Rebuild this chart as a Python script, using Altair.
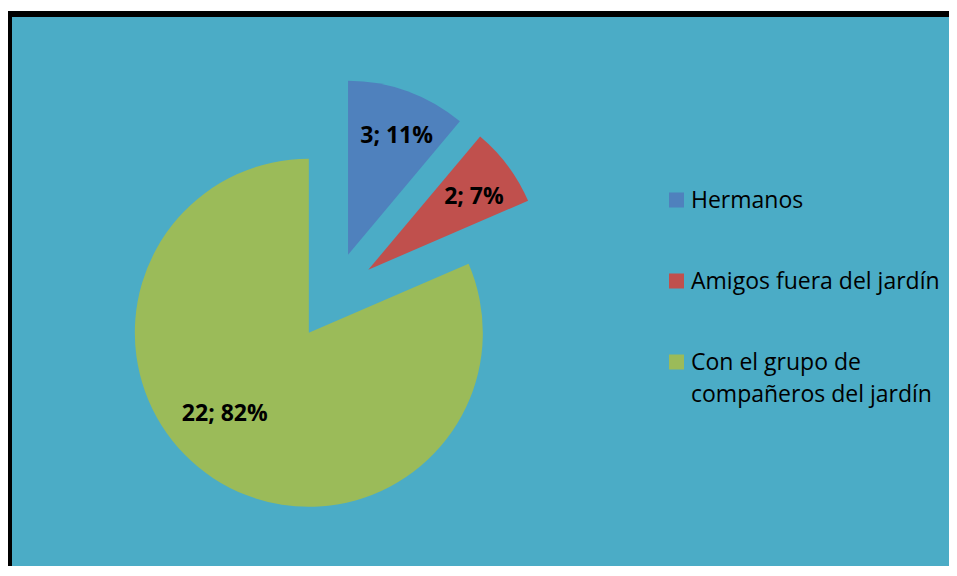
import altair as alt
import pandas as pd

# ---- data ----
categories = ["Hermanos", "Amigos fuera del jardín", "Con el grupo de compañeros del jardín"]
legend_text = ["Hermanos", "Amigos fuera del jardín", "Con el grupo de\ncompañeros del jardín"]
values = [3, 2, 22]
percents = [11, 7, 82]
colors = ["#4F81BD", "#C0504D", "#9BBB59"]

df = pd.DataFrame({"cat": categories, "value": values, "pct": percents,
                   "order": list(range(len(values))), "legtext": legend_text})

# ---- style ----
PAD_L, PAD_T = 1, 6
W, H = 941 - PAD_L, 558 - PAD_T
CX, CY = 324, 282      # pie centre (plot coords)
R = 174                # pie radius
EXPLODE = 44           # explosion distance
BG = "#4BACC6"

pie_base = (
    alt.Chart(df)
    .transform_joinaggregate(total="sum(value)")
    .transform_window(cum="sum(value)", sort=[alt.SortField("order")], frame=[None, 0])
    .transform_calculate(
        t0="2*PI*(datum.cum - datum.value)/datum.total",
        t1="2*PI*datum.cum/datum.total",
        mid="(datum.t0 + datum.t1)/2",
        big="datum.value*2 > datum.total",
        px=f"{CX} + {EXPLODE}*sin(datum.mid)",
        py=f"{CY} - {EXPLODE}*cos(datum.mid)",
        la="datum.mid + (datum.big ? 0.22 : 0.04)",
        lr="datum.big ? 117 : 128",
        lx="datum.px + datum.lr*sin(datum.la)",
        ly="datum.py - datum.lr*cos(datum.la)",
        lab="datum.value + '; ' + datum.pct + '%'",
    )
)

arcs = pie_base.mark_arc(radius=R).encode(
    theta=alt.Theta("t0:Q", scale=None, stack=False),
    theta2="t1:Q",
    x=alt.X("px:Q", scale=None, axis=None),
    y=alt.Y("py:Q", scale=None, axis=None),
    color=alt.Color("cat:N", scale=alt.Scale(domain=categories, range=colors), legend=None),
)

labels = pie_base.mark_text(
    font="Open Sans", fontSize=23, fontWeight="bold", color="black",
    align="center", baseline="middle",
).encode(
    x=alt.X("lx:Q", scale=None, axis=None),
    y=alt.Y("ly:Q", scale=None, axis=None),
    text="lab:N",
)

leg_y = alt.Y("cat:N", scale=alt.Scale(domain=categories, range=[186, 348], padding=0), axis=None)

leg_sq = alt.Chart(df).mark_square(size=225, opacity=1).encode(
    x=alt.value(667.5),
    y=leg_y,
    color=alt.Color("cat:N", scale=alt.Scale(domain=categories, range=colors), legend=None),
)

leg_txt = alt.Chart(df).transform_calculate(
    lines="split(datum.legtext, '\\n')"
).mark_text(
    font="Open Sans", fontSize=23, color="black", align="left", baseline="alphabetic",
    dy=8, lineHeight=32,
).encode(
    x=alt.value(682),
    y=leg_y,
    text="lines:N",
)

one = pd.DataFrame({"k": [0]})
border_top = alt.Chart(one).mark_rule(color="black", strokeWidth=6).encode(
    x=alt.value(-3), x2=alt.value(W), y=alt.value(0)
)
border_left = alt.Chart(one).mark_rule(color="black", strokeWidth=6).encode(
    x=alt.value(0), y=alt.value(-3), y2=alt.value(H)
)

chart = (
    alt.layer(arcs, labels, leg_sq, leg_txt, border_top, border_left)
    .resolve_scale(y="independent", x="independent", color="shared")
    .properties(
        width=W, height=H,
        autosize=alt.AutoSizeParams(type="none"),
        padding={"left": PAD_L, "top": PAD_T, "right": 0, "bottom": 0},
        background="white",
    )
    .configure_view(fill=BG, strokeWidth=0)
)

chart.save("out.html", embed_options={"renderer": "svg", "actions": False})
